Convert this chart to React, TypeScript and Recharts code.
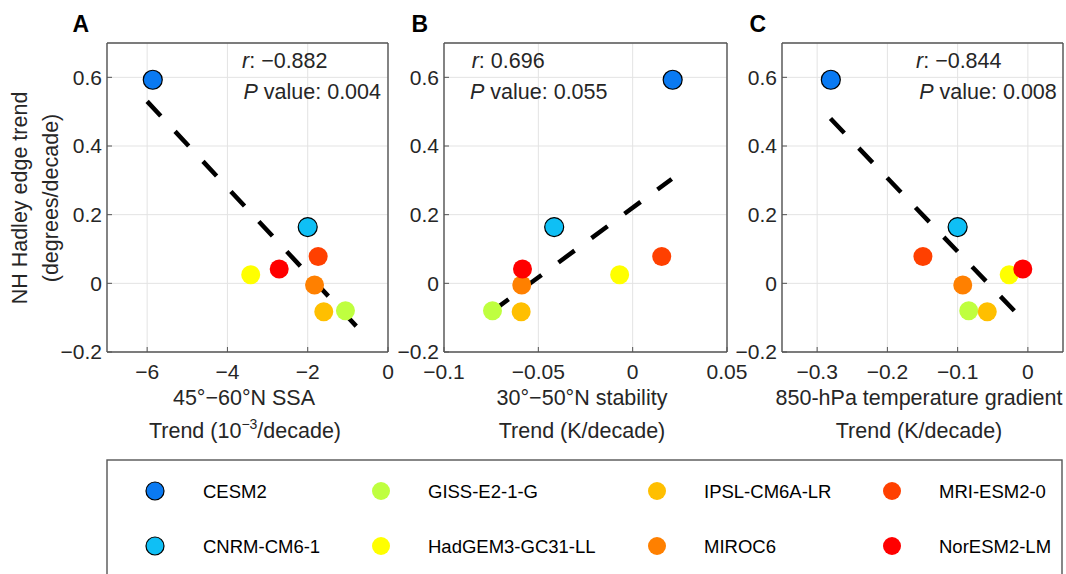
import { ScatterChart, Scatter, XAxis, YAxis, CartesianGrid } from 'recharts'

const models = [
  'CESM2',
  'CNRM-CM6-1',
  'GISS-E2-1-G',
  'HadGEM3-GC31-LL',
  'IPSL-CM6A-LR',
  'MIROC6',
  'MRI-ESM2-0',
  'NorESM2-LM',
]
const colors = ['#0A7AF2', '#0FBFF5', '#BFFF3F', '#FFFF00', '#FFBF00', '#FF8000', '#FF4000', '#FF0000']
const outlined = [true, true, false, false, false, false, false, false]

// NH Hadley edge trend (degrees/decade)
const hadleyTrend = [0.593, 0.164, -0.08, 0.025, -0.083, -0.005, 0.078, 0.042]
// A: 45-60N SSA trend (1e-3/decade)
const ssaTrend = [-5.86, -2.0, -1.06, -3.42, -1.6, -1.83, -1.74, -2.71]
// B: 30-50N stability trend (K/decade)
const stabilityTrend = [0.0212, -0.0416, -0.0743, -0.0069, -0.0591, -0.0588, 0.0154, -0.0584]
// C: 850-hPa temperature gradient trend (K/decade)
const gradientTrend = [-0.2805, -0.1, -0.0842, -0.0266, -0.0578, -0.0927, -0.1494, -0.0072]

// regression line end points
const fitAx = [-6.0, -0.55]
const fitAy = [0.53, -0.155]
const fitBx = [-0.0743, 0.0207]
const fitBy = [-0.081, 0.304]
const fitCx = [-0.281, -0.0072]
const fitCy = [0.48, -0.106]

const yTicks = [-0.2, 0, 0.2, 0.4, 0.6]
const xTicksA = [-6, -4, -2, 0]
const xTicksB = [-0.1, -0.05, 0, 0.05]
const xTicksC = [-0.3, -0.2, -0.1, 0]

const FONT = '"Liberation Sans", Arial, sans-serif'
const TXT = '#262626'
const FRAME = '#555555'

const fmt = (v: number) => (v === 0 ? '0' : (v < 0 ? '\u2212' : '') + String(Math.abs(v)))

const Dot = (p: any) => (
  <circle
    cx={p.cx}
    cy={p.cy}
    r={9.5}
    fill={p.payload.fill}
    stroke={p.payload.outline ? '#000' : 'none'}
    strokeWidth={1.2}
  />
)

interface PanelProps {
  plotLeft: number
  plotWidth: number
  xDomain: [number, number]
  xTicks: number[]
  xs: number[]
  fitX: number[]
  fitY: number[]
}

function Panel({ plotLeft, plotWidth, xDomain, xTicks, xs, fitX, fitY }: PanelProps) {
  const pts = models.map((m, i) => ({
    name: m,
    x: xs[i],
    y: hadleyTrend[i],
    fill: colors[i],
    outline: outlined[i],
  }))
  const fit = fitX.map((x, i) => ({ x, y: fitY[i] }))
  const w = 60 + plotWidth + 36
  const axisLine = { stroke: FRAME, strokeWidth: 1.4 }
  const tickStyle = { fill: TXT, fontSize: 21, fontFamily: FONT }
  return (
    <div style={{ position: 'absolute', left: plotLeft - 60, top: 0 }}>
      <ScatterChart width={w} height={392} margin={{ top: 42, right: 35, bottom: 10, left: 1 }}>
        <CartesianGrid stroke="#e3e3e3" strokeWidth={1} />
        <XAxis
          type="number"
          dataKey="x"
          domain={xDomain}
          ticks={xTicks}
          allowDataOverflow
          height={30}
          tickSize={-5}
          tickMargin={17}
          tickFormatter={fmt}
          tick={tickStyle}
          axisLine={axisLine}
          tickLine={{ stroke: FRAME }}
        />
        <XAxis
          xAxisId="top"
          orientation="top"
          type="number"
          domain={xDomain}
          ticks={xTicks}
          allowDataOverflow
          height={1}
          tickSize={-5}
          tick={false}
          axisLine={axisLine}
          tickLine={{ stroke: FRAME }}
        />
        <YAxis
          type="number"
          dataKey="y"
          domain={[-0.2, 0.7]}
          ticks={yTicks}
          allowDataOverflow
          width={59}
          tickSize={-5}
          tickMargin={10}
          tickFormatter={fmt}
          tick={tickStyle}
          axisLine={axisLine}
          tickLine={{ stroke: FRAME }}
        />
        <YAxis
          yAxisId="right"
          orientation="right"
          type="number"
          domain={[-0.2, 0.7]}
          ticks={yTicks}
          allowDataOverflow
          width={1}
          tickSize={-5}
          tick={false}
          axisLine={axisLine}
          tickLine={{ stroke: FRAME }}
        />
        <Scatter
          data={fit}
          isAnimationActive={false}
          fill="#000"
          line={{ stroke: '#000', strokeWidth: 4.5, strokeDasharray: '20 21' }}
          shape={() => <g />}
        />
        <Scatter data={pts} isAnimationActive={false} shape={Dot} />
      </ScatterChart>
    </div>
  )
}

function Overlay() {
  const t = { fontFamily: FONT, fontSize: 21.5, fill: TXT }
  const letter = { fontFamily: FONT, fontSize: 23, fontWeight: 'bold' as const, fill: '#000' }
  const stat = (x1: number, x2: number, r: string, p: string) => (
    <>
      <text x={x1} y={68.3} {...t}>
        <tspan fontStyle="italic">r</tspan>: {r}
      </text>
      <text x={x2} y={99} {...t}>
        <tspan fontStyle="italic">P</tspan> value: {p}
      </text>
    </>
  )
  return (
    <svg
      width={1066}
      height={574}
      style={{ position: 'absolute', left: 0, top: 0, pointerEvents: 'none' }}
    >
      <text x={72.5} y={32} {...letter}>A</text>
      <text x={411.5} y={32} {...letter}>B</text>
      <text x={749.5} y={32} {...letter}>C</text>

      {stat(242, 243.5, '\u22120.882', '0.004')}
      {stat(471.7, 470, '0.696', '0.055')}
      {stat(916, 919.3, '\u22120.844', '0.008')}

      <g transform="translate(27,198) rotate(-90)">
        <text x={0} y={0} textAnchor="middle" {...t}>NH Hadley edge trend</text>
      </g>
      <g transform="translate(57.5,198) rotate(-90)">
        <text x={0} y={0} textAnchor="middle" {...t}>(degrees/decade)</text>
      </g>

      <text x={244} y={405} textAnchor="middle" {...t}>45°{'\u2212'}60°N SSA</text>
      <text x={245} y={438} textAnchor="middle" {...t}>
        Trend (10<tspan dy={-9} fontSize={14}>{'\u2212'}3</tspan>
        <tspan dy={9}>/decade)</tspan>
      </text>

      <text x={582} y={405} textAnchor="middle" {...t}>30°{'\u2212'}50°N stability</text>
      <text x={582} y={438} textAnchor="middle" {...t}>Trend (K/decade)</text>

      <text x={919} y={405} textAnchor="middle" {...t}>850-hPa temperature gradient</text>
      <text x={919} y={438} textAnchor="middle" {...t}>Trend (K/decade)</text>
    </svg>
  )
}

const legendCols = [
  { cx: 155, tx: 203 },
  { cx: 381, tx: 428 },
  { cx: 657, tx: 704 },
  { cx: 892, tx: 939 },
]
const legendRows = [491, 546]

function ModelLegend() {
  return (
    <svg width={1066} height={574} style={{ position: 'absolute', left: 0, top: 0 }}>
      <rect x={107} y={460} width={955} height={140} fill="#fff" stroke={FRAME} strokeWidth={1.4} />
      {models.map((m, i) => {
        const col = legendCols[Math.floor(i / 2)]
        const y = legendRows[i % 2]
        return (
          <g key={m}>
            <circle
              cx={col.cx}
              cy={y}
              r={9}
              fill={colors[i]}
              stroke={outlined[i] ? '#000' : 'none'}
              strokeWidth={1.2}
            />
            <text
              x={col.tx}
              y={y + 6.6}
              fontFamily={FONT}
              fontSize={18.5}
              fill="#000"
            >
              {m}
            </text>
          </g>
        )
      })}
    </svg>
  )
}

export default function App() {
  return (
    <div
      style={{
        position: 'relative',
        width: 1066,
        height: 574,
        overflow: 'hidden',
        background: '#fff',
        fontFamily: FONT,
      }}
    >
      <style>{'body{margin:0}'}</style>
      <ModelLegend />
      <Panel
        plotLeft={107}
        plotWidth={281}
        xDomain={[-7, 0]}
        xTicks={xTicksA}
        xs={ssaTrend}
        fitX={fitAx}
        fitY={fitAy}
      />
      <Panel
        plotLeft={444}
        plotWidth={283}
        xDomain={[-0.1, 0.05]}
        xTicks={xTicksB}
        xs={stabilityTrend}
        fitX={fitBx}
        fitY={fitBy}
      />
      <Panel
        plotLeft={782}
        plotWidth={281}
        xDomain={[-0.35, 0.05]}
        xTicks={xTicksC}
        xs={gradientTrend}
        fitX={fitCx}
        fitY={fitCy}
      />
      <Overlay />
    </div>
  )
}
